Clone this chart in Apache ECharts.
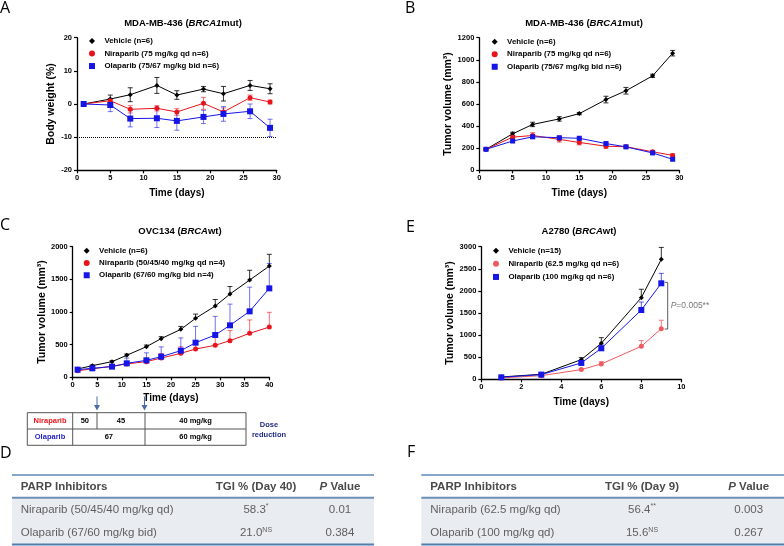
<!DOCTYPE html>
<html><head><meta charset="utf-8">
<script src="https://cdn.jsdelivr.net/npm/echarts@6/dist/echarts.min.js"></script>
<style>html,body{margin:0;padding:0;background:#fff}#c{width:784px;height:546px}</style>
</head><body><div id="c"></div>
<script>
// ---------- DATA ----------
const daysAB = [1, 5, 8, 12, 15, 19, 22, 26, 29];
const bwVehicle = [0, 1.5, 2.8, 5.6, 2.7, 4.5, 3.1, 5.6, 4.6];
const bwVehicleErr = [0, 1.2, 2.1, 2.4, 1.3, 0.8, 2.2, 1.5, 1.5];
const bwNiraparib = [0, 1.0, -1.6, -1.3, -2.4, 0.2, -2.4, 1.9, 0.6];
const bwNiraparibErr = [0, 0.6, 1.1, 0.8, 1.0, 1.8, 1.2, 0.8, 0.6];
const bwOlaparib = [0, -0.3, -4.4, -4.3, -5.1, -3.9, -3.0, -2.2, -7.2];
const bwOlaparibErr = [0, 2.0, 2.5, 2.8, 2.8, 2.0, 2.2, 2.2, 2.6];

const tvVehicle = [190, 330, 415, 465, 513, 640, 720, 855, 1060];
const tvVehicleErr = [10, 15, 20, 20, 10, 30, 30, 15, 25];
const tvNiraparib = [190, 300, 315, 280, 252, 218, 213, 168, 135];
const tvNiraparibErr = [8, 15, 25, 25, 22, 20, 15, 12, 15];
const tvOlaparib = [190, 265, 303, 295, 290, 242, 212, 157, 100];
const tvOlaparibErr = [5, 12, 15, 12, 10, 10, 10, 10, 10];

const daysC = [1, 4, 8, 11, 15, 18, 22, 25, 29, 32, 36, 40];
const cVehicle = [128, 178, 240, 337, 469, 592, 734, 903, 1091, 1275, 1489, 1703];
const cVehicleErr = [10, 12, 15, 20, 25, 30, 45, 65, 100, 115, 150, 180];
const cNiraparib = [100, 130, 170, 205, 240, 295, 367, 433, 490, 561, 673, 770];
const cNiraparibErr = [10, 15, 25, 35, 50, 70, 100, 120, 140, 155, 205, 225];
const cOlaparib = [117, 138, 163, 214, 260, 316, 408, 530, 648, 796, 1010, 1362];
const cOlaparibErr = [15, 20, 30, 80, 115, 150, 195, 250, 285, 325, 370, 380];

const daysE = [1, 3, 5, 6, 8, 9];
const eVehicle = [53, 113, 445, 814, 1847, 2714];
const eVehicleErr = [10, 15, 45, 128, 190, 270];
const eNiraparib = [30, 83, 219, 347, 746, 1146];
const eNiraparibErr = [5, 10, 20, 50, 130, 190];
const eOlaparib = [45, 106, 370, 701, 1568, 2172];
const eOlaparibErr = [8, 12, 50, 75, 180, 225];

const bracketE = [[9.17, 2193], [9.32, 2193], [9.32, 1137], [9.17, 1137]];
const bracketLabelE = 'P=0.005**';

const legendA = ['Vehicle (n=6)', 'Niraparib (75 mg/kg qd n=6)', 'Olaparib (75/67 mg/kg bid n=6)'];
const legendC = ['Vehicle (n=6)', 'Niraparib (50/45/40 mg/kg qd n=4)', 'Olaparib (67/60 mg/kg bid n=4)'];
const legendE = ['Vehicle (n=15)', 'Niraparib (62.5 mg/kg qd n=6)', 'Olaparib (100 mg/kg qd n=6)'];

const doseRowNames = ['Niraparib', 'Olaparib'];
const doseNiraparib = ['50', '45', '40 mg/kg'];
const doseOlaparib = ['67', '60 mg/kg'];
const doseNote = ['Dose', 'reduction'];

const tableHeaderD = ['PARP Inhibitors', 'TGI % (Day 40)', 'Value'];
const tableRowsD = [['Niraparib (50/45/40 mg/kg qd)', '58.3', '*', '0.01'], ['Olaparib (67/60 mg/kg bid)', '21.0', 'NS', '0.384']];
const tableHeaderF = ['PARP Inhibitors', 'TGI % (Day 9)', 'Value'];
const tableRowsF = [['Niraparib (62.5 mg/kg qd)', '56.4', '**', '0.003'], ['Olaparib (100 mg/kg qd)', '15.6', 'NS', '0.267']];

// ---------- STYLE ----------
const FF = '"Liberation Sans", Arial, sans-serif';
const RED = '#e8141c', RED_E = '#ef5b60', BLUE = '#1515e6', BLACK = '#000';

function pts(xs, ys) { return xs.map((x, i) => [x, ys[i]]); }
function lineSeries(name, idx, xs, ys, color, symbol, size, extra) {
  return Object.assign({
    type: 'line', name, xAxisIndex: idx, yAxisIndex: idx, data: pts(xs, ys),
    symbol, symbolSize: size, color, lineStyle: { width: 1, color }, itemStyle: { color },
    z: 5, animation: false
  }, extra || {});
}
function errSeries(idx, xs, ys, errs, color, upperOnly, opacity) {
  return {
    type: 'custom', xAxisIndex: idx, yAxisIndex: idx, z: 3, animation: false, silent: true,
    data: xs.map((x, i) => [x, upperOnly ? ys[i] : ys[i] - errs[i], ys[i] + errs[i]]),
    encode: { x: 0, y: [1, 2] },
    renderItem: (params, api) => {
      const lo = api.coord([api.value(0), api.value(1)]);
      const hi = api.coord([api.value(0), api.value(2)]);
      const w = 2.5, st = { stroke: color, lineWidth: 1, opacity: opacity };
      const ch = [
        { type: 'line', shape: { x1: lo[0], y1: lo[1], x2: hi[0], y2: hi[1] }, style: st },
        { type: 'line', shape: { x1: hi[0] - w, y1: hi[1], x2: hi[0] + w, y2: hi[1] }, style: st }
      ];
      if (!upperOnly) ch.push({ type: 'line', shape: { x1: lo[0] - w, y1: lo[1], x2: lo[0] + w, y2: lo[1] }, style: st });
      return { type: 'group', children: ch };
    }
  };
}
function xAx(idx, max, interval, gap) {
  return {
    type: 'value', gridIndex: idx, min: 0, max, interval,
    name: 'Time (days)', nameLocation: 'middle', nameGap: gap,
    nameTextStyle: { fontFamily: FF, fontWeight: 'bold', fontSize: 10, color: '#000' },
    axisLine: { onZero: false, lineStyle: { color: '#000', width: 1.3 } },
    axisTick: { length: 3, lineStyle: { color: '#000', width: 1.2 } },
    axisLabel: { fontFamily: FF, fontWeight: 'bold', fontSize: 7.5, color: '#000', margin: 4, formatter: v => String(v) },
    splitLine: { show: false }
  };
}
function yAx(idx, min, max, interval, name, gap) {
  return {
    type: 'value', gridIndex: idx, min, max, interval,
    name, nameLocation: 'middle', nameGap: gap,
    nameTextStyle: { fontFamily: FF, fontWeight: 'bold', fontSize: 10.5, color: '#000' },
    axisLine: { show: true, onZero: false, lineStyle: { color: '#000', width: 1.3 } },
    axisTick: { show: true, length: 3, lineStyle: { color: '#000', width: 1.2 } },
    axisLabel: { fontFamily: FF, fontWeight: 'bold', fontSize: 7.5, color: '#000', margin: 5, formatter: v => String(v) },
    splitLine: { show: false }
  };
}
function legend(names, iconList, left, top, lh) {
  return {
    orient: 'vertical', left, top, padding: 0, itemWidth: 6, itemHeight: 6, itemGap: 0,
    selectedMode: false,
    formatter: n => '  ' + n,
    textStyle: { fontFamily: FF, fontWeight: 'bold', fontSize: 7.9, color: '#000', lineHeight: lh },
    data: names.map((n, i) => ({ name: n, icon: iconList[i] }))
  };
}
const icons = ['diamond', 'circle', 'rect'];

// ---------- GRAPHICS (titles, letters, tables) ----------
const G = [];
function txt(x, y, text, o) {
  G.push({ type: 'text', x, y, silent: true, style: Object.assign({ text, fontFamily: FF, fill: '#000' }, o) });
}
function titleRich(x, y, a, b, c) {
  txt(x, y, `{b|${a}}{i|${b}}{b|${c}}`, {
    align: 'center', verticalAlign: 'middle',
    rich: { b: { fontFamily: FF, fontWeight: 'bold', fontSize: 9.5, fill: '#000' },
            i: { fontFamily: FF, fontWeight: 'bold', fontStyle: 'italic', fontSize: 9.5, fill: '#000' } }
  });
}
titleRich(183, 23, 'MDA-MB-436 (', 'BRCA1', 'mut)');
titleRich(584, 23.3, 'MDA-MB-436 (', 'BRCA1', 'mut)');
titleRich(180, 231, 'OVC134 (', 'BRCA', 'wt)');
titleRich(579, 231.7, 'A2780 (', 'BRCA', 'wt)');

const LET = { fontFamily: '"Open Sans", "Noto Sans", sans-serif', fontSize: 16, verticalAlign: 'middle', align: 'left' };
txt(0, 8, 'A', LET); txt(405, 8.5, 'B', LET); txt(0, 225, 'C', LET);
txt(0, 453, 'D', LET); txt(406, 227, 'E', LET); txt(407, 452, 'F', LET);

// dose table
function ln(x1, y1, x2, y2, stroke, w) {
  G.push({ type: 'line', silent: true, shape: { x1, y1, x2, y2 }, style: { stroke, lineWidth: w } });
}
const DT = { l: 27.3, r: 246, t: 412.7, m: 429, b: 445.3, c1: 72.7, c2: 97, c3: 145 };
G.push({ type: 'rect', silent: true, shape: { x: DT.l, y: DT.t, width: DT.r - DT.l, height: DT.b - DT.t }, style: { fill: '#fff', stroke: '#555', lineWidth: 1 } });
ln(DT.l, DT.m, DT.r, DT.m, '#555', 1);
ln(DT.c1, DT.t, DT.c1, DT.b, '#555', 1);
ln(DT.c2, DT.t, DT.c2, DT.m, '#555', 1);
ln(DT.c3, DT.t, DT.c3, DT.b, '#555', 1);
const DS = { fontFamily: FF, fontWeight: 'bold', fontSize: 7.5, align: 'center', verticalAlign: 'middle' };
const r1 = (DT.t + DT.m) / 2, r2 = (DT.m + DT.b) / 2;
txt((DT.l + DT.c1) / 2, r1, doseRowNames[0], Object.assign({}, DS, { fill: RED }));
txt((DT.l + DT.c1) / 2, r2, doseRowNames[1], Object.assign({}, DS, { fill: '#2222cc' }));
txt((DT.c1 + DT.c2) / 2, r1, doseNiraparib[0], DS);
txt((DT.c2 + DT.c3) / 2, r1, doseNiraparib[1], DS);
txt((DT.c3 + DT.r) / 2, r1, doseNiraparib[2], DS);
txt((DT.c1 + DT.c3) / 2, r2, doseOlaparib[0], DS);
txt((DT.c3 + DT.r) / 2, r2, doseOlaparib[1], DS);
txt(269, 425, doseNote[0], Object.assign({}, DS, { fill: '#1f2a80' }));
txt(269, 434.5, doseNote[1], Object.assign({}, DS, { fill: '#1f2a80' }));
[97, 144.5].forEach(x => {
  ln(x, 396.5, x, 408, '#4a6aa8', 1);
  G.push({ type: 'polygon', silent: true, shape: { points: [[x - 3, 405], [x + 3, 405], [x, 410.5]] }, style: { fill: '#4a6aa8' } });
});

// result tables
function resultTable(x0, x1, cLeft, cTgi, cP, header, rows) {
  const top = 475, hdrLine = 497.7, bot = 545;
  G.push({ type: 'rect', silent: true, shape: { x: x0, y: hdrLine, width: x1 - x0, height: bot - hdrLine }, style: { fill: '#e9ecf0' } });
  ln(x0, top, x1, top, '#5d88b6', 1.5);
  ln(x0, hdrLine, x1, hdrLine, '#6c8fb8', 2);
  ln(x0, bot - 0.5, x1, bot - 0.5, '#4f7db0', 2);
  const H = { fontFamily: FF, fontWeight: 'bold', fontSize: 11.5, fill: '#4a4a4a', verticalAlign: 'middle' };
  const hy = 486.7;
  txt(cLeft, hy, header[0], Object.assign({}, H, { align: 'left' }));
  txt(cTgi, hy, header[1], Object.assign({}, H, { align: 'center' }));
  txt(cP, hy, `{i|P} {n|${header[2]}}`, Object.assign({}, H, { align: 'center',
    rich: { i: { fontFamily: FF, fontWeight: 'bold', fontStyle: 'italic', fontSize: 11.5, fill: '#4a4a4a' },
            n: { fontFamily: FF, fontWeight: 'bold', fontSize: 11.5, fill: '#4a4a4a' } } }));
  const R = { fontFamily: FF, fontSize: 11.5, fill: '#5f5f5f', verticalAlign: 'middle' };
  [510, 533.3].forEach((y, i) => {
    const row = rows[i];
    txt(cLeft, y, row[0], Object.assign({}, R, { align: 'left' }));
    txt(cTgi, y, `{n|${row[1]}}{s|${row[2]}}`, Object.assign({}, R, { align: 'center',
      rich: { n: { fontFamily: FF, fontSize: 11.5, fill: '#5f5f5f', lineHeight: 14 },
              s: { fontFamily: FF, fontSize: 7, fill: '#5f5f5f', verticalAlign: 'top', lineHeight: 14 } } }));
    txt(cP, y, row[3], Object.assign({}, R, { align: 'center' }));
  });
}
resultTable(12, 374, 20.7, 256, 340, tableHeaderD, tableRowsD);
resultTable(421.3, 784, 430.3, 642, 748.7, tableHeaderF, tableRowsF);

// ---------- OPTION ----------
const option = {
  backgroundColor: '#fff',
  animation: false,
  grid: [
    { left: 77, top: 37.7, width: 199.7, height: 132.6 },
    { left: 479.3, top: 37.7, width: 200, height: 132.6 },
    { left: 72.7, top: 246.7, width: 196.6, height: 130.6 },
    { left: 481.3, top: 246.7, width: 200, height: 132.6 }
  ],
  xAxis: [xAx(0, 30, 5, 18), xAx(1, 30, 5, 18), xAx(2, 40, 5, 16), xAx(3, 10, 2, 18)],
  yAxis: [
    yAx(0, -20, 20, 10, 'Body weight (%)', 20),
    yAx(1, 0, 1200, 200, 'Tumor volume (mm³)', 26),
    yAx(2, 0, 2000, 500, 'Tumor volume (mm³)', 25),
    yAx(3, 0, 3000, 500, 'Tumor volume (mm³)', 25)
  ],
  legend: [
    legend(legendA, icons, 89, 34.8, 12.5),
    legend(legendA, icons, 491.7, 35.5, 12.5),
    legend(legendC, icons, 83.7, 244.5, 12.3),
    legend(legendE, icons, 493, 244.2, 13.1)
  ],
  series: [
    // A
    errSeries(0, daysAB, bwVehicle, bwVehicleErr, BLACK, false, 0.8),
    errSeries(0, daysAB, bwNiraparib, bwNiraparibErr, RED, false, 0.6),
    errSeries(0, daysAB, bwOlaparib, bwOlaparibErr, BLUE, false, 0.6),
    lineSeries(legendA[0], 0, daysAB, bwVehicle, BLACK, 'diamond', 5, {
      markLine: { silent: true, symbol: ['none', 'none'], label: { show: false },
        lineStyle: { type: 'dotted', color: '#000', width: 1 }, data: [{ yAxis: -10 }] }
    }),
    lineSeries(legendA[1], 0, daysAB, bwNiraparib, RED, 'circle', 5),
    lineSeries(legendA[2], 0, daysAB, bwOlaparib, BLUE, 'rect', 6),
    // B
    errSeries(1, daysAB, tvVehicle, tvVehicleErr, BLACK, false, 0.8),
    errSeries(1, daysAB, tvNiraparib, tvNiraparibErr, RED, false, 0.6),
    errSeries(1, daysAB, tvOlaparib, tvOlaparibErr, BLUE, false, 0.6),
    lineSeries(legendA[0], 1, daysAB, tvVehicle, BLACK, 'diamond', 5),
    lineSeries(legendA[1], 1, daysAB, tvNiraparib, RED, 'circle', 5),
    lineSeries(legendA[2], 1, daysAB, tvOlaparib, BLUE, 'rect', 5),
    // C
    errSeries(2, daysC, cVehicle, cVehicleErr, BLACK, true, 0.8),
    errSeries(2, daysC, cNiraparib, cNiraparibErr, RED, true, 0.6),
    errSeries(2, daysC, cOlaparib, cOlaparibErr, BLUE, true, 0.6),
    lineSeries(legendC[0], 2, daysC, cVehicle, BLACK, 'diamond', 5),
    lineSeries(legendC[1], 2, daysC, cNiraparib, RED, 'circle', 5),
    lineSeries(legendC[2], 2, daysC, cOlaparib, BLUE, 'rect', 6),
    // E
    errSeries(3, daysE, eVehicle, eVehicleErr, BLACK, true, 0.8),
    errSeries(3, daysE, eNiraparib, eNiraparibErr, RED_E, true, 0.8),
    errSeries(3, daysE, eOlaparib, eOlaparibErr, BLUE, true, 0.7),
    lineSeries(legendE[0], 3, daysE, eVehicle, BLACK, 'diamond', 5),
    lineSeries(legendE[1], 3, daysE, eNiraparib, RED_E, 'circle', 5),
    lineSeries(legendE[2], 3, daysE, eOlaparib, BLUE, 'rect', 6),
    {
      type: 'line', xAxisIndex: 3, yAxisIndex: 3, data: bracketE, symbol: 'none', silent: true,
      lineStyle: { color: '#333', width: 0.8 }, z: 2
    },
    {
      type: 'scatter', xAxisIndex: 3, yAxisIndex: 3, silent: true, symbolSize: 0,
      data: [[bracketE[1][0], (bracketE[1][1] + bracketE[2][1]) / 2]],
      label: { show: true, position: 'right', distance: 3, formatter: '{i|P}{n|' + bracketLabelE.slice(1) + '}',
        rich: { i: { fontFamily: FF, fontStyle: 'italic', fontSize: 8.5, color: '#555' },
                n: { fontFamily: FF, fontSize: 8.5, color: '#555' } } }
    }
  ],
  graphic: G
};
const chart = echarts.init(document.getElementById('c'), null, { renderer: 'canvas' });
chart.setOption(option);
</script></body></html>
